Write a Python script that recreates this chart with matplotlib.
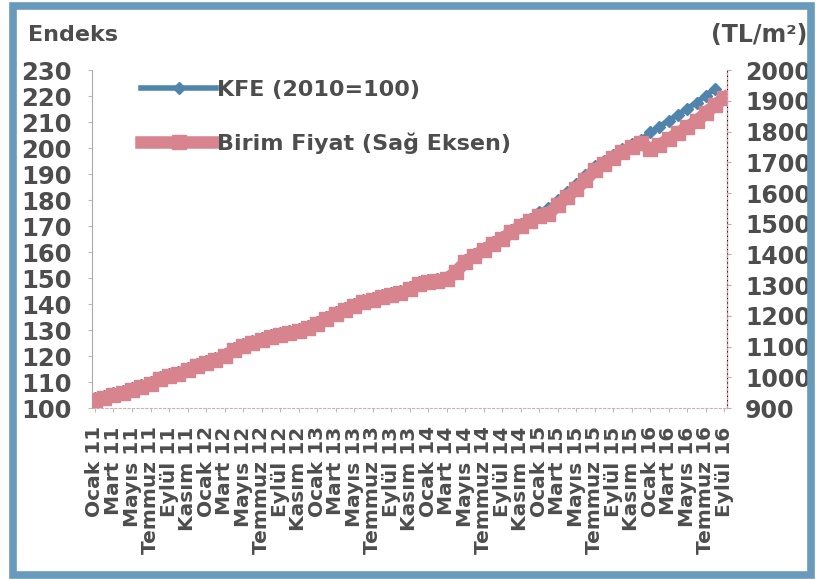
import matplotlib
matplotlib.use("Agg")
import matplotlib.pyplot as plt
from matplotlib.patches import Rectangle
import numpy as np

plt.rcParams['font.family'] = ['DejaVu Sans']
plt.rcParams['font.weight'] = 'bold'

months = ["Ocak", "Şubat", "Mart", "Nisan", "Mayıs", "Haziran",
          "Temmuz", "Ağustos", "Eylül", "Ekim", "Kasım", "Aralık"]
years = ["11", "12", "13", "14", "15", "16"]

# KFE (2010=100), Ocak 2011 - Ağustos 2016 (left axis)
kfe = [103.8, 104.6, 105.8, 106.5, 107.7, 108.8, 110.0, 111.9, 113.1, 113.8, 115.4, 116.9,
       118.1, 119.2, 120.8, 123.1, 124.6, 125.8, 126.9, 128.1, 128.8, 129.6, 130.4, 131.5,
       133.1, 135.0, 136.9, 138.5, 140.0, 141.5, 142.3, 143.5, 144.2, 145.0, 146.5, 148.5,
       149.2, 149.6, 150.4, 153.1, 156.9, 159.2, 161.5, 163.8, 165.8, 168.5, 170.8, 172.6,
       175.3, 177.0, 180.0, 183.0, 186.3, 189.8, 193.0, 195.0, 197.2, 199.5, 201.5, 203.2,
       206.0, 208.3, 210.6, 212.9, 215.2, 217.5, 220.2, 222.9]

# Birim Fiyat (TL/m2), Ocak 2011 - Eylül 2016 (right axis)
birim = [926, 933, 942, 949, 959, 968, 978, 994, 1004, 1011, 1024, 1037,
         1046, 1056, 1069, 1089, 1102, 1112, 1121, 1131, 1138, 1144, 1151, 1160,
         1173, 1190, 1206, 1219, 1232, 1245, 1251, 1261, 1268, 1274, 1287, 1303,
         1310, 1313, 1320, 1343, 1375, 1395, 1414, 1434, 1450, 1473, 1492, 1509,
         1525, 1531, 1561, 1587, 1613, 1642, 1674, 1694, 1714, 1733, 1749, 1762,
         1743, 1756, 1775, 1795, 1814, 1834, 1860, 1886, 1909]

left_ticks = list(range(100, 231, 10))
right_ticks = list(range(900, 2001, 100))

labels_all = [f"{m} {y}" for y in years for m in months][:len(birim)]
tick_pos = list(range(0, len(birim), 2))
tick_lab = [labels_all[i] for i in tick_pos]

TXT = '#4d4d4d'
BLUE = '#4f85ad'
PINK = '#d7848e'
FRAME = '#6a9abb'

fig = plt.figure(figsize=(8.16, 5.79), dpi=100)
ax = fig.add_axes([0.113, 0.295, 0.778, 0.584])
ax2 = ax.twinx()

x1 = np.arange(len(kfe))
x2 = np.arange(len(birim))
l1, = ax.plot(x1, kfe, color=BLUE, lw=4, marker='D', ms=6, mfc=BLUE, mec=BLUE,
              label='KFE (2010=100)')
l2, = ax2.plot(x2, birim, color=PINK, lw=9, marker='s', ms=10, mfc=PINK, mec=PINK,
               label='Birim Fiyat (Sağ Eksen)')

ax.set_xlim(-0.3, len(birim) - 0.7)
ax.set_ylim(100, 230)
ax2.set_ylim(900, 2000)
ax.set_yticks(left_ticks)
ax2.set_yticks(right_ticks)
ax.set_xticks(tick_pos)
ax.set_xticklabels(tick_lab)
ax.tick_params(axis='x', length=3, pad=10, color='#bbbbbb', labelsize=14.5,
               labelrotation=90, labelcolor=TXT)
ax.tick_params(axis='y', labelsize=17.5, labelcolor=TXT, length=3, pad=12, color='#bbbbbb')
ax2.tick_params(axis='y', labelsize=17, labelcolor=TXT, length=3, pad=10, color='#d9a0a8')
for a in (ax, ax2):
    a.spines['top'].set_visible(False)
    a.set_facecolor('none')
ax.spines['left'].set_color('#aaaaaa')
ax.spines['bottom'].set_color('#d0b0b5')
ax.spines['bottom'].set_linestyle((0, (2, 2)))
ax2.spines['right'].set_color('#d9a0a8')
ax2.spines['right'].set_linestyle((0, (2, 2)))
ax2.spines['left'].set_visible(False)
ax2.spines['bottom'].set_visible(False)

leg = ax2.legend(handles=[l1, l2], loc='upper left', bbox_to_anchor=(0.045, 1.03),
                 frameon=False, fontsize=16, handlelength=3.4, handletextpad=0.05,
                 labelspacing=1.45)
for t in leg.get_texts():
    t.set_color(TXT)

fig.text(0.034, 0.94, 'Endeks', fontsize=16, color=TXT, ha='left', va='center')
fig.text(0.99, 0.94, '(TL/m²)', fontsize=17, color=TXT, ha='right', va='center')

fig.patches.append(Rectangle((0.016, 0.007), 0.978, 0.982, transform=fig.transFigure,
                             fill=False, edgecolor=FRAME, lw=5.5, zorder=10))

fig.savefig('out.png', dpi=100)
